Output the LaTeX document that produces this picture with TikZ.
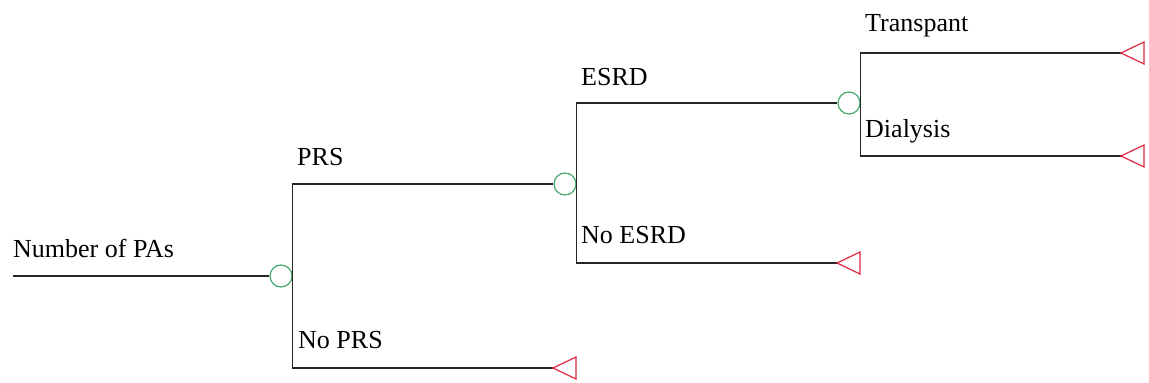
\documentclass[tikz,border=0pt]{standalone}
\usepackage{fontspec}
\setmainfont{Liberation Serif}
\begin{document}
\begin{tikzpicture}[x=1pt,y=-1pt,
  edge/.style={draw=black!85,line width=1.3pt},
  chance/.style={circle,draw={rgb,255:red,70;green,170;blue,110},line width=1.2pt,minimum size=22pt,inner sep=0pt,fill=white},
  term/.style={draw={rgb,255:red,222;green,40;blue,64},line width=1.2pt,fill=white},
  lbl/.style={anchor=base west,inner sep=0pt,font=\fontsize{26}{30}\selectfont}]
\useasboundingbox (0,0) rectangle (1149,383);
% nodes
\coordinate (start) at (13,276);
\node[chance] (c1) at (281,276) {};
\node[chance] (c2) at (565,184) {};
\node[chance] (c3) at (849,103) {};
\coordinate (t1) at (553,368);
\coordinate (t2) at (837,263);
\coordinate (t3) at (1121,53);
\coordinate (t4) at (1121,156);
% connectors
\draw[edge] (start) -- (c1.west);
\draw[edge] (c1.east) |- (c2.west);
\draw[edge] (c1.east) |- (t1);
\draw[edge] (c2.east) |- (c3.west);
\draw[edge] (c2.east) |- (t2);
\draw[edge] (c3.east) |- (t3);
\draw[edge] (c3.east) |- (t4);
% terminal triangles
\foreach \t in {t1,t2,t3,t4}{
  \draw[term] (\t) -- ++(23,-11) -- ++(0,22) -- cycle;
}
% labels
\node[lbl] (l0) at (13,257) {Number of PAs};
\node[lbl] (l1) at (297,165) {PRS};
\node[lbl] (l2) at (298,348) {No PRS};
\node[lbl] (l3) at (581,85) {ESRD};
\node[lbl] (l4) at (581,243) {No ESRD};
\node[lbl] (l5) at (865,31) {Transpant};
\node[lbl] (l6) at (865,137) {Dialysis};
\end{tikzpicture}
\end{document}
